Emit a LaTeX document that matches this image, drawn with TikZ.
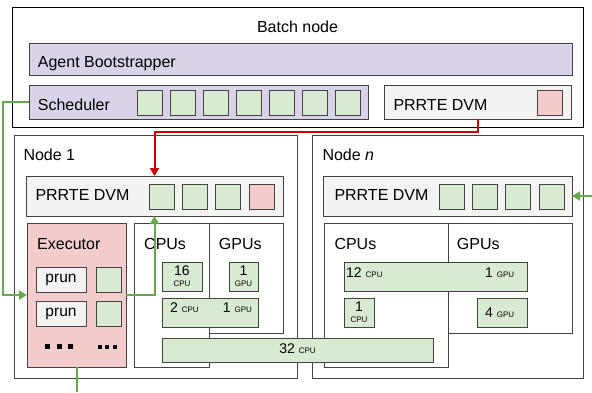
\documentclass[tikz,border=0pt]{standalone}
\usepackage{fontspec}
\setmainfont{Liberation Sans}
\usetikzlibrary{arrows.meta}

\definecolor{lavfill}{HTML}{D9D2E9}
\definecolor{dvmfill}{HTML}{F3F3F3}
\definecolor{slotfill}{HTML}{D9EAD3}
\definecolor{pinkfill}{HTML}{F4CCCC}
\definecolor{linegreen}{HTML}{6AA84F}
\definecolor{linered}{HTML}{CC0000}
\definecolor{edgegray}{HTML}{434343}

\tikzset{
  box/.style={draw=edgegray, line width=1pt, inner sep=0pt, outer sep=0pt},
  hostbox/.style={box, draw=black, fill=white},
  lavbox/.style={box, fill=lavfill},
  dvmbox/.style={box, fill=dvmfill},
  slot/.style={box, fill=slotfill, minimum size=25pt},
  pslot/.style={box, fill=pinkfill, minimum size=25pt},
  resbox/.style={box, fill=slotfill},
  biglbl/.style={font=\fontsize{16}{19}\selectfont, inner sep=0pt, anchor=base west},
  numlbl/.style={font=\fontsize{14}{16}\selectfont, inner sep=0pt, anchor=base west},
  unitlbl/.style={font=\fontsize{8}{9}\selectfont, inner sep=0pt, anchor=base},
  gline/.style={draw=linegreen, line width=2pt},
  rline/.style={draw=linered, line width=2pt},
  tip/.style={-{Triangle[width=9pt,length=8pt]}},
}
\newcommand{\unitsz}{\fontsize{8}{9}\selectfont}

\begin{document}
\begin{tikzpicture}[x=1pt, y=-1pt]
    \useasboundingbox (0,0) rectangle (592,392);

    % batch node
    \node (batch) [hostbox, minimum width=571pt, minimum height=120pt] at (297.5,67) {};
    \node (batchlbl) [biglbl, anchor=base] at (297.5,32.7) {Batch node};
    \node (agent) [lavbox, minimum width=543pt, minimum height=32pt] at (300.5,59) {};
    \node (agentlbl) [biglbl] at (37.7,67.7) {Agent Bootstrapper};
    \node (sched) [lavbox, minimum width=339pt, minimum height=34pt] at (198.5,102) {};
    \node (schedlbl) [biglbl] at (37.7,110) {Scheduler};
    \foreach \i in {0,...,6}
        \node (s\i) [slot] at (149.5+33.1*\i,102.5) {};
    \node (dvm0) [dvmbox, minimum width=187pt, minimum height=34pt] at (477.5,102) {};
    \node (dvm0lbl) [biglbl] at (393.3,110) {PRRTE DVM};
    \node (p0) [pslot] at (549.5,102.5) {};

    % node 1
    \node (node1) [hostbox, draw=edgegray, minimum width=283pt, minimum height=243.5pt] at (155.5,256.75) {};
    \node (node1lbl) [biglbl] at (23.3,160.7) {Node 1};
    \node (dvm1) [dvmbox, minimum width=257pt, minimum height=40pt] at (154.5,196) {};
    \node (dvm1lbl) [biglbl] at (35.3,200) {PRRTE DVM};
    \foreach \i in {0,1,2}
        \node (a\i) [slot] at (161.8+33.3*\i,196.5) {};
    \node (a3) [pslot] at (261.8,196.5) {};

    \node (exec) [box, fill=pinkfill, minimum width=99pt, minimum height=144pt] at (76.5,295) {};
    \node (execlbl) [biglbl] at (37,249.3) {Executor};
    \node (prun1) [dvmbox, minimum width=50pt, minimum height=25pt, font=\fontsize{15.5}{18}\selectfont] at (61,279.5) {prun};
    \node (prun2) [dvmbox, minimum width=50pt, minimum height=25pt, font=\fontsize{15.5}{18}\selectfont] at (61,313.5) {prun};
    \node (e1) [slot] at (108.5,279.5) {};
    \node (e2) [slot] at (108.5,313.5) {};
    \foreach \dx in {0,11.5,23}
        \fill (45+\dx,344) rectangle ++(5,5);
    \foreach \dx in {0,7.5,15}
        \fill (97.5+\dx,345) rectangle ++(4,4);

    \node (cpu1) [hostbox, draw=edgegray, minimum width=75pt, minimum height=144pt] at (171.5,295) {};
    \node (gpu1) [hostbox, draw=edgegray, minimum width=74pt, minimum height=110pt] at (246,278) {};
    \node (cpu1lbl) [biglbl] at (144,249.3) {CPUs};
    \node (gpu1lbl) [biglbl] at (218.7,249.3) {GPUs};
    \node (r16) [resbox, minimum width=40pt, minimum height=29pt] at (182,276.5) {};
    \node (r16num) [numlbl, anchor=base] at (182,275) {16};
    \node (r16unit) [unitlbl] at (182,286.7) {CPU};
    \node (r1g) [resbox, minimum width=29pt, minimum height=29pt] at (243.5,276.5) {};
    \node (r1gnum) [numlbl, anchor=base] at (243.5,275) {1};
    \node (r1gunit) [unitlbl] at (243.5,286.7) {GPU};
    \node (r2c1g) [resbox, minimum width=96pt, minimum height=29pt] at (210,312.5) {};
    \node (r2clbl) [numlbl] at (170,312.3) {2 {\unitsz CPU}};
    \node (r1glbl) [numlbl] at (222.7,312.3) {1 {\unitsz GPU}};

    % node n
    \node (noden) [hostbox, draw=edgegray, minimum width=271pt, minimum height=243.5pt] at (447.5,256.75) {};
    \node (nodenlbl) [biglbl] at (322.3,160.7) {Node \textit{n}};
    \node (dvmn) [dvmbox, minimum width=249pt, minimum height=40pt] at (447.5,196) {};
    \node (dvmnlbl) [biglbl] at (334.3,200) {PRRTE DVM};
    \foreach \i in {0,...,3}
        \node (b\i) [slot] at (451.8+33.3*\i,196.5) {};

    \node (cpun) [hostbox, draw=edgegray, minimum width=124pt, minimum height=144pt] at (386,295) {};
    \node (gpun) [hostbox, draw=edgegray, minimum width=124pt, minimum height=110pt] at (510,278) {};
    \node (cpunlbl) [biglbl] at (334.3,249.3) {CPUs};
    \node (gpunlbl) [biglbl] at (456.7,249.3) {GPUs};
    \node (r12c1g) [resbox, minimum width=183pt, minimum height=29pt] at (435.5,276.5) {};
    \node (r12clbl) [numlbl] at (346,277.7) {12 {\unitsz CPU}};
    \node (r1gnlbl) [numlbl] at (485,277.7) {1 {\unitsz GPU}};
    \node (r1c) [resbox, minimum width=30pt, minimum height=29pt] at (359,312.5) {};
    \node (r1cnum) [numlbl, anchor=base] at (359,311.5) {1};
    \node (r1cunit) [unitlbl] at (359,322.7) {CPU};
    \node (r4g) [resbox, minimum width=50pt, minimum height=29pt] at (502,312.5) {};
    \node (r4glbl) [numlbl] at (485,317.7) {4 {\unitsz GPU}};

    % spans both nodes
    \node (r32) [resbox, minimum width=271pt, minimum height=24pt] at (297.5,350) {};
    \node (r32lbl) [numlbl, anchor=base] at (297.5,353.3) {32 {\unitsz CPU}};

    % connectors
    \coordinate (execout) at (76.5,392);
    \coordinate (dvmnin) at (592,196);
    \draw[rline, tip] (dvm0.south) -- ++(0,12.7) -| (dvm1.north);
    \draw[gline, tip] (sched.west) -- ++(-26,0) |- (exec.west);
    \draw[gline, tip] (exec.east) -| (dvm1.south);
    \draw[gline] (exec.south) -- (execout);
    \draw[gline, tip] (dvmnin) -- (dvmn.east);
\end{tikzpicture}
\end{document}
